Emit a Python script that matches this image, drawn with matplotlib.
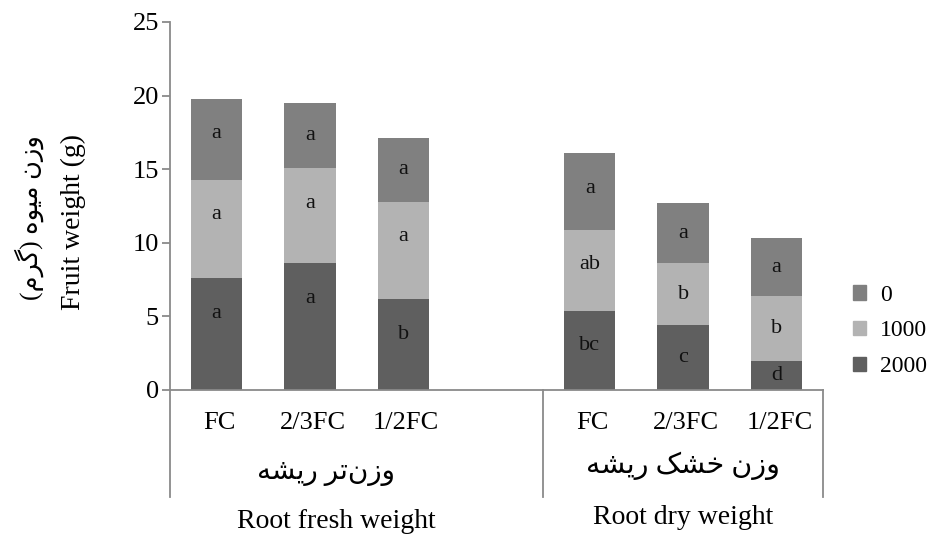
import matplotlib
matplotlib.use("Agg")
import numpy as np
import matplotlib.pyplot as plt
from matplotlib.patches import Patch

# ── Data ──────────────────────────────────────────────────────────────────────
categories = ["FC", "2/3FC", "1/2FC", "FC", "2/3FC", "1/2FC"]
slots = [0, 1, 2, 4, 5, 6]          # slot 3 is the empty gap between groups

vals_2000 = [7.6, 8.6, 6.2, 5.4, 4.4, 2.0]   # bottom segment
vals_1000 = [6.7, 6.5, 6.6, 5.5, 4.2, 4.4]   # middle segment
vals_0 = [5.5, 4.4, 4.3, 5.2, 4.1, 3.9]      # top segment

letters_2000 = ["a", "a", "b", "bc", "c", "d"]
letters_1000 = ["a", "a", "a", "ab", "b", "b"]
letters_0 = ["a", "a", "a", "a", "a", "a"]

# Persian strings written in visual order with Arabic presentation forms
# (matplotlib does no bidi / shaping on its own)
fa_ylabel = "(\uFEE1\uFEAE\uFB94) \uFEE9\uFEEE\uFBFF\uFEE3 \uFEE5\uFEAF\uFEED"   # وزن میوه (گرم)
fa_fresh = "\uFEEA\uFEB8\uFBFE\uFEAD \uFEAE\uFE97\uFEE5\uFEAF\uFEED"           # وزن‌تر ریشه
fa_dry = "\uFEEA\uFEB8\uFBFE\uFEAD \uFB8F\uFEB8\uFEA7 \uFEE5\uFEAF\uFEED"      # وزن خشک ریشه
group_en = ["Root fresh weight", "Root dry weight"]
group_fa = [fa_fresh, fa_dry]
group_centers = [1, 5]

colors = {"0": "#808080", "1000": "#b3b3b3", "2000": "#5f5f5f"}
axis_gray = "#8a8a8a"

plt.rcParams["font.family"] = ["Liberation Serif", "DejaVu Sans"]

fig = plt.figure(figsize=(9.38, 5.4), dpi=100)
ax = fig.add_axes([170 / 938, 150 / 540, 653 / 938, 368 / 540])

# ── Stacked bars ──────────────────────────────────────────────────────────────
width = 0.55
bottom = np.zeros(len(slots))
for name, vals, letters in [("2000", vals_2000, letters_2000),
                            ("1000", vals_1000, letters_1000),
                            ("0", vals_0, letters_0)]:
    vals = np.array(vals)
    ax.bar(slots, vals, width, bottom=bottom, color=colors[name], linewidth=0)
    tops = bottom + vals
    for x, b, t, lab in zip(slots, bottom, tops, letters):
        y = max(t - 2.4, (b + t) / 2)
        ax.text(x, y, lab, ha="center", va="center", fontsize=16, color="#111111")
    bottom = tops

ax.set_xlim(-0.5, 6.5)
ax.set_ylim(0, 25)
ax.set_yticks(range(0, 26, 5))
ax.set_xticks([])

for s in ["top", "right"]:
    ax.spines[s].set_visible(False)
for s in ["left", "bottom"]:
    ax.spines[s].set_color(axis_gray)
    ax.spines[s].set_linewidth(1.3)
ax.tick_params(axis="y", direction="out", length=6, width=1.3, color=axis_gray,
               labelsize=19, pad=2)

# ── Multi-level category axis ────────────────────────────────────────────────
xt = ax.get_xaxis_transform()
for xs in [-0.5, 3.5, 6.5]:
    ax.plot([xs, xs], [0, -0.291], transform=xt, clip_on=False,
            color=axis_gray, lw=1.3)

for x, lab in zip(slots, categories):
    ax.annotate(lab, xy=(x, 0), xycoords=xt, xytext=(3, -33),
                textcoords="offset pixels", ha="center", va="center", fontsize=19)

fa_offsets = [(16, -84), (0, -76)]
en_offsets = [(26, -132), (0, -127)]
fa_sizes = [20, 20.5]
for gx, fa, en, fo, eo, fs in zip(group_centers, group_fa, group_en,
                                  fa_offsets, en_offsets, fa_sizes):
    ax.annotate(fa, xy=(gx, 0), xycoords=xt, xytext=fo,
                textcoords="offset pixels", ha="center", va="center", fontsize=fs)
    ax.annotate(en, xy=(gx, 0), xycoords=xt, xytext=eo,
                textcoords="offset pixels", ha="center", va="center", fontsize=20)

# ── Y labels (Persian + English) ─────────────────────────────────────────────
fig.text(29 / 938, 1 - 218 / 540, fa_ylabel, rotation=90, ha="center",
         va="center", fontsize=18.5)
fig.text(73 / 938, 1 - 222 / 540, "Fruit weight (g)", rotation=90,
         ha="center", va="center", fontsize=20)

# ── Legend ───────────────────────────────────────────────────────────────────
handles = [Patch(color=colors[n], label=n) for n in ["0", "1000", "2000"]]
fig.legend(handles=handles, loc="center left", bbox_to_anchor=(853 / 938, 1 - 331 / 540),
           frameon=False, fontsize=17, handlelength=0.55, handleheight=0.55,
           handletextpad=0.6, labelspacing=0.62, borderaxespad=0, borderpad=0)

fig.savefig("out.png", dpi=100)
